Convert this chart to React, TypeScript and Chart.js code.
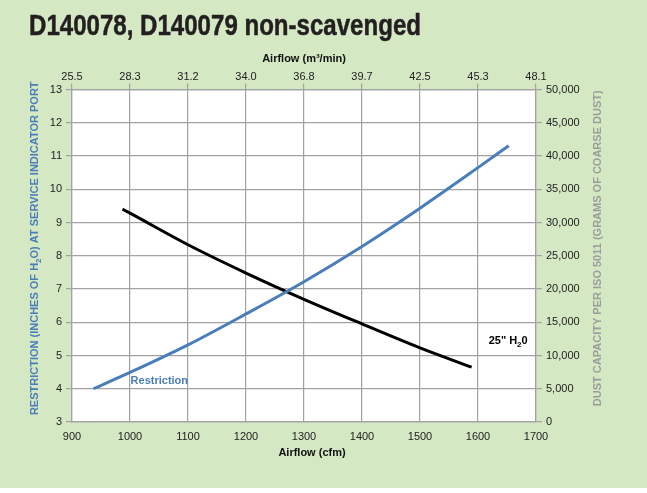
import React, { useEffect, useRef } from "react";
import { Chart, registerables } from "chart.js";

Chart.register(...registerables);

// ---- data ----
const restrictionCfm = [937, 1000, 1100, 1200, 1300, 1400, 1500, 1600, 1653];
const restrictionInH2O = [4.0, 4.49, 5.32, 6.25, 7.22, 8.28, 9.43, 10.65, 11.31];
const dustCfm = [987, 1000, 1100, 1200, 1300, 1400, 1500, 1589];
const dustGrams = [32000, 31400, 26650, 22400, 18450, 14750, 11150, 8250];
const topTickLabels = ["25.5", "28.3", "31.2", "34.0", "36.8", "39.7", "42.5", "45.3", "48.1"];

const TITLE = "D140078, D140079 non-scavenged";
const BLUE = "#4a7ebb";
const GRID = "#a2a2a2";
const BG = "#d5e8c4";
const FONT = "'Liberation Sans', Arial, sans-serif";

type Part = { t: string; sub?: boolean };

function drawRich(ctx: any, parts: Part[], cx: number, cy: number, rot: number, size: number, color: string) {
  ctx.save();
  ctx.translate(cx, cy);
  ctx.rotate(rot);
  ctx.fillStyle = color;
  ctx.textBaseline = "middle";
  ctx.textAlign = "left";
  const big = `bold ${size}px ${FONT}`;
  const small = `bold ${Math.round(size * 0.7)}px ${FONT}`;
  let total = 0;
  for (const p of parts) {
    ctx.font = p.sub ? small : big;
    total += ctx.measureText(p.t).width;
  }
  let x = -total / 2;
  for (const p of parts) {
    ctx.font = p.sub ? small : big;
    ctx.fillText(p.t, x, p.sub ? size * 0.3 : 0);
    x += ctx.measureText(p.t).width;
  }
  ctx.restore();
}

const decor = {
  id: "decor",
  beforeDraw(chart: any) {
    const { ctx, chartArea: a, width, height } = chart;
    ctx.save();
    ctx.fillStyle = "#ffffff";
    ctx.fillRect(0, 0, width, height);
    ctx.fillStyle = BG;
    ctx.fillRect(0, 0, width, 488);
    ctx.fillStyle = "#ffffff";
    ctx.fillRect(a.left, a.top, a.right - a.left, a.bottom - a.top);
    ctx.restore();
  },
  afterDraw(chart: any) {
    const { ctx, scales, chartArea: a } = chart;
    ctx.save();
    // main title, condensed bold
    ctx.font = `bold 29px 'Liberation Sans Narrow', ${FONT}`;
    ctx.fillStyle = "#231f20";
    ctx.strokeStyle = "#231f20";
    ctx.lineWidth = 0.5;
    ctx.textBaseline = "alphabetic";
    ctx.textAlign = "left";
    const w = ctx.measureText(TITLE).width;
    const sx = 392 / w;
    ctx.translate(29, 35);
    ctx.scale(sx, 1);
    ctx.fillText(TITLE, 0, 0);
    ctx.strokeText(TITLE, 0, 0);
    ctx.setTransform(1, 0, 0, 1, 0, 0);
    ctx.restore();

    const midY = (a.top + a.bottom) / 2 - 7.5;
    // left axis title
    drawRich(
      ctx,
      [{ t: "RESTRICTION (INCHES OF H" }, { t: "2", sub: true }, { t: "O) AT SERVICE INDICATOR PORT" }],
      35,
      midY,
      -Math.PI / 2,
      11,
      BLUE
    );
    // right axis title
    drawRich(
      ctx,
      [{ t: "DUST CAPACITY PER ISO 5011 (GRAMS OF COARSE DUST)" }],
      598,
      midY,
      -Math.PI / 2,
      11,
      "#9c9c9c"
    );
    // bottom axis title
    drawRich(ctx, [{ t: "Airflow (cfm)" }], (a.left + a.right) / 2 + 8, 453, 0, 11, "#111111");

    // series labels
    ctx.save();
    ctx.font = `bold 11px ${FONT}`;
    ctx.textBaseline = "middle";
    ctx.textAlign = "left";
    ctx.fillStyle = BLUE;
    ctx.fillText("Restriction", scales.x.getPixelForValue(1001), scales.y.getPixelForValue(4.22));
    ctx.restore();

    drawRich(
      ctx,
      [{ t: '25" H' }, { t: "2", sub: true }, { t: "0" }],
      scales.x.getPixelForValue(1652),
      scales.y.getPixelForValue(5.43),
      0,
      11,
      "#000000"
    );
  },
};

export default function App() {
  const ref = useRef<HTMLCanvasElement | null>(null);

  useEffect(() => {
    if (!ref.current) return;
    Chart.defaults.font.family = FONT;
    const tickFont = { size: 11, family: FONT };
    const chart = new Chart(ref.current, {
      type: "line",
      data: {
        datasets: [
          {
            label: "Restriction",
            data: restrictionCfm.map((x, i) => ({ x, y: restrictionInH2O[i] })),
            borderColor: BLUE,
            borderWidth: 3,
            pointRadius: 0,
            cubicInterpolationMode: "monotone",
            xAxisID: "x",
            yAxisID: "y",
          },
          {
            label: '25" H2O',
            data: dustCfm.map((x, i) => ({ x, y: dustGrams[i] })),
            borderColor: "#000000",
            borderWidth: 3,
            pointRadius: 0,
            cubicInterpolationMode: "monotone",
            xAxisID: "x",
            yAxisID: "y2",
          },
        ],
      },
      options: {
        responsive: false,
        animation: false,
        layout: { padding: { left: 0, right: 0, top: 45, bottom: 0 } },
        plugins: { legend: { display: false }, tooltip: { enabled: false }, title: { display: false } },
        scales: {
          x: {
            type: "linear",
            position: "bottom",
            min: 900,
            max: 1700,
            ticks: {
              stepSize: 100,
              color: "#222",
              font: tickFont,
              padding: 8,
              maxRotation: 0,
              callback: (v: any) => String(v),
            },
            grid: { color: GRID, lineWidth: 1.2, drawTicks: false },
            border: { color: GRID, width: 1.2 },
            afterFit: (s: any) => {
              s.height = 71;
            },
          },
          x2: {
            type: "linear",
            position: "top",
            min: 900,
            max: 1700,
            ticks: {
              stepSize: 100,
              color: "#222",
              font: tickFont,
              padding: 0,
              maxRotation: 0,
              callback: (_v: any, i: number) => topTickLabels[i],
            },
            grid: { color: GRID, lineWidth: 1.2, drawOnChartArea: false, tickLength: 6 },
            border: { color: GRID, width: 1.2 },
            title: {
              display: true,
              text: "Airflow (m³/min)",
              color: "#111",
              font: { size: 11, weight: "bold", family: FONT },
              padding: { top: 6.9, bottom: 0 },
            },
            afterFit: (s: any) => {
              s.height = 44.5;
            },
          },
          y: {
            type: "linear",
            position: "left",
            min: 3,
            max: 13,
            ticks: { stepSize: 1, color: "#222", font: tickFont, padding: 4 },
            grid: { color: GRID, lineWidth: 1.2, tickLength: 6 },
            border: { color: GRID, width: 1.2 },
            afterFit: (s: any) => {
              s.width = 72;
            },
          },
          y2: {
            type: "linear",
            position: "right",
            min: 0,
            max: 50000,
            ticks: {
              stepSize: 5000,
              color: "#222",
              font: tickFont,
              padding: 4,
              callback: (v: any) => Number(v).toLocaleString("en-US"),
            },
            grid: { color: GRID, lineWidth: 1.2, drawOnChartArea: false, tickLength: 6 },
            border: { color: GRID, width: 1.2 },
            afterFit: (s: any) => {
              s.width = 111;
            },
          },
        },
      } as any,
      plugins: [decor],
    });
    return () => chart.destroy();
  }, []);

  return (
    <div style={{ position: "absolute", left: 0, top: 0, width: 647, height: 493 }}>
      <canvas ref={ref} width={647} height={493} style={{ width: 647, height: 493, display: "block" }} />
    </div>
  );
}
